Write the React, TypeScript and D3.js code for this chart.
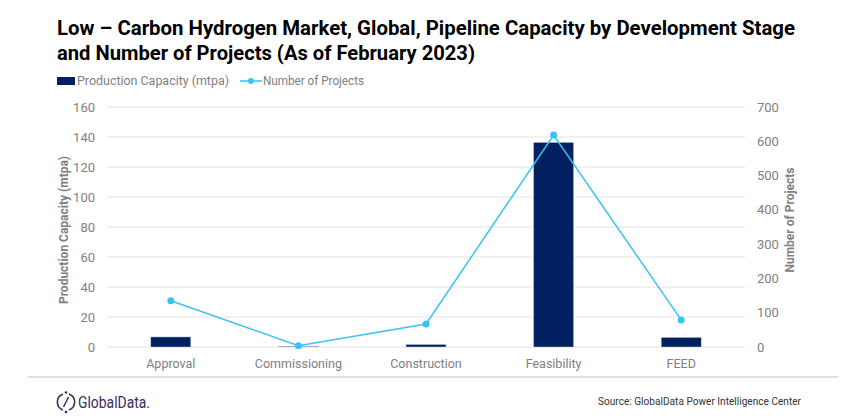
import React from 'react';
import * as d3 from 'd3';

// 数据
const stages = ['Approval', 'Commissioning', 'Construction', 'Feasibility', 'FEED'];
const capacity = [6.7, 0.5, 1.7, 136.4, 6.4];
const projects = [135, 4, 67, 618, 79];
const leftTicks = [0, 20, 40, 60, 80, 100, 120, 140, 160];
const rightTicks = [0, 100, 200, 300, 400, 500, 600, 700];

const W = 844;
const H = 419;
const plot = { left: 107, right: 745, top: 107, bottom: 347 };
const GRAY = '#808080';
const NAVY = '#002060';
const CYAN = '#38c3f5';
const FONT = 'Roboto, "Liberation Sans", sans-serif';

const App: React.FC = () => {
  const x = d3.scaleBand<string>().domain(stages).range([plot.left, plot.right]).padding(0);
  const yL = d3.scaleLinear().domain([0, 160]).range([plot.bottom, plot.top]);
  const yR = d3.scaleLinear().domain([0, 700]).range([plot.bottom, plot.top]);
  const barW = 40;
  const cx = (s: string) => x(s)! + x.bandwidth() / 2;

  const line = d3.line<number>()
    .x((_, i) => cx(stages[i]))
    .y(d => yR(d));

  return (
    <svg width={W} height={H} style={{ display: 'block', position: 'absolute', left: 0, top: 0, background: '#fff' }}>
      {/* 标题 */}
      <g fontFamily={FONT} fontWeight="bold" fontSize={20} fill="#000">
        <text x={57} y={35} textLength={738} lengthAdjust="spacingAndGlyphs">
          Low – Carbon Hydrogen Market, Global, Pipeline Capacity by Development Stage
        </text>
        <text x={57} y={60} textLength={418} lengthAdjust="spacingAndGlyphs">
          and Number of Projects (As of February 2023)
        </text>
      </g>

      {/* 图例 */}
      <g fontFamily={FONT} fontSize={12} fill={GRAY}>
        <rect x={57} y={77} width={18} height={8} fill={NAVY} />
        <text x={77} y={85} textLength={152} lengthAdjust="spacingAndGlyphs">Production Capacity (mtpa)</text>
        <line x1={240} x2={262} y1={81} y2={81} stroke={CYAN} strokeWidth={1.5} />
        <circle cx={251} cy={81} r={3} fill={CYAN} />
        <text x={263} y={85} textLength={101} lengthAdjust="spacingAndGlyphs">Number of Projects</text>
      </g>

      {/* 网格线 */}
      {leftTicks.map(t => (
        <line key={`g${t}`} x1={plot.left} x2={plot.right} y1={yL(t)} y2={yL(t)} stroke="#e3e3e3" strokeWidth={1} />
      ))}

      {/* 左轴 */}
      <g fontFamily={FONT} fontSize={13} fill={GRAY} textAnchor="end">
        {leftTicks.map(t => (
          <text key={`l${t}`} x={95} y={yL(t)} dy="0.35em">{t}</text>
        ))}
      </g>
      <text
        transform={`translate(68,230) rotate(-90)`}
        textAnchor="middle"
        fontFamily={FONT}
        fontSize={12}
        fontWeight="bold"
        fill={GRAY}
      >
        Production Capacity (mtpa)
      </text>

      {/* 右轴 */}
      <g fontFamily={FONT} fontSize={13} fill={GRAY} textAnchor="start">
        {rightTicks.map(t => (
          <text key={`r${t}`} x={757} y={yR(t)} dy="0.35em">{t}</text>
        ))}
      </g>
      <text
        transform={`translate(794,220) rotate(-90)`}
        textAnchor="middle"
        fontFamily={FONT}
        fontSize={12}
        fontWeight="bold"
        fill={GRAY}
      >
        Number of Projects
      </text>

      {/* 柱子 */}
      {stages.map((s, i) => (
        <rect
          key={`b${s}`}
          x={cx(s) - barW / 2}
          y={yL(capacity[i])}
          width={barW}
          height={yL(0) - yL(capacity[i])}
          fill={NAVY}
          stroke="#c8cde0"
          strokeWidth={0.5}
        />
      ))}

      {/* 折线 */}
      <path d={line(projects) || ''} fill="none" stroke={CYAN} strokeWidth={1.5} />
      {projects.map((p, i) => (
        <circle key={`p${i}`} cx={cx(stages[i])} cy={yR(p)} r={3.5} fill={CYAN} />
      ))}

      {/* 类别标签 */}
      <g fontFamily={FONT} fontSize={12.5} fill={GRAY} textAnchor="middle">
        {stages.map(s => (
          <text key={`c${s}`} x={cx(s)} y={368}>{s}</text>
        ))}
      </g>

      {/* 底部 */}
      <line x1={28} x2={838} y1={377} y2={377} stroke="#bfbfbf" strokeWidth={1} />
      <g transform="translate(66,402)" stroke="#3b2c5e" fill="none" strokeWidth={1.6}>
        <path d="M -3 -8 A 8.5 8.5 0 0 0 -3 8" />
        <path d="M 3 -8 A 8.5 8.5 0 0 1 3 8" />
        <line x1={2.5} y1={-5} x2={-2.5} y2={5} />
        <circle cx={0} cy={-9.5} r={1.3} fill="#3b2c5e" stroke="none" />
        <circle cx={0} cy={10} r={1.3} fill="#3b2c5e" stroke="none" />
      </g>
      <text x={78} y={408} fontFamily={FONT} fontSize={17} fill="#3b2c5e" textLength={72} lengthAdjust="spacingAndGlyphs">
        GlobalData.
      </text>
      <text x={598} y={405} fontFamily={FONT} fontSize={11} fill="#333" textLength={203} lengthAdjust="spacingAndGlyphs">
        Source: GlobalData Power Intelligence Center
      </text>
    </svg>
  );
};

export default App;
